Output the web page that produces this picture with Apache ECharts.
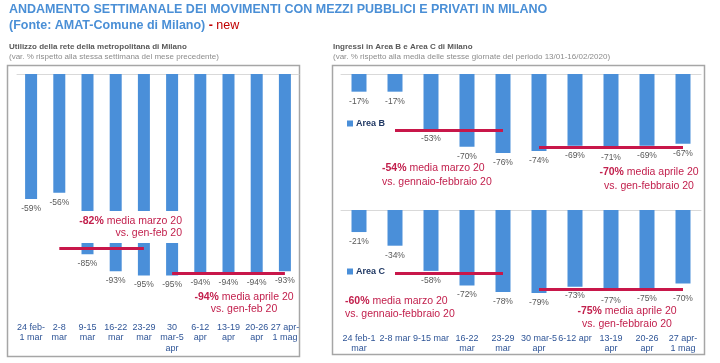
<!DOCTYPE html>
<html><head><meta charset="utf-8">
<script src="https://cdn.jsdelivr.net/npm/echarts@6/dist/echarts.min.js"></script>
<style>html,body{margin:0;padding:0;background:#fff}#c{width:720px;height:363px}</style>
</head><body><div id="c"></div>
<script>
// ---- data ----
const metroCategories = ['24 feb-\n1 mar','2-8\nmar','9-15\nmar','16-22\nmar','23-29\nmar','30\nmar-5\napr','6-12\napr','13-19\napr','20-26\napr','27 apr-\n1 mag'];
const areaCategories = ['24 feb-1\nmar','2-8 mar','9-15 mar','16-22\nmar','23-29\nmar','30 mar-5\napr','6-12 apr','13-19\napr','20-26\napr','27 apr-\n1 mag'];
const metroValues = [-59,-56,-85,-93,-95,-95,-94,-94,-94,-93];
const areaBValues = [-17,-17,-53,-70,-76,-74,-69,-71,-69,-67];
const areaCValues = [-21,-34,-58,-72,-78,-79,-73,-77,-75,-70];
const metroAverages = [-82,-94];   // [marzo, aprile]
const areaBAverages = [-54,-70];
const areaCAverages = [-60,-75];
const marchRange = [1,4];
const aprilRange = [5,9];

const BLUE = '#4a8fd9';
const RED = '#c8174a';
const TRED = '#c2204d';
const FONT = '"Liberation Sans", Arial, sans-serif';

const chart = echarts.init(document.getElementById('c'), null, {renderer:'canvas'});

function barSeries(name, data, xi, yi, avgs, barW, shiftLast) {
  const s = {
    type:'bar', name, data, xAxisIndex:xi, yAxisIndex:yi, barWidth:barW,
    itemStyle:{color:BLUE},
    label:{show:true, position:'bottom', distance:5, formatter:p=>p.value+'%', fontSize:8.5, color:'#595959', fontFamily:FONT},
    markLine:{silent:true, symbol:'none', animation:false,
      lineStyle:{color:RED, width:3, type:'solid'}, label:{show:false},
      emphasis:{disabled:true},
      data:[
        [{coord:[marchRange[0], avgs[0]]},{coord:[marchRange[1], avgs[0]]}],
        [{coord:[aprilRange[0], avgs[1]]},{coord:[aprilRange[1], avgs[1]]}]
      ]}
  };
  if (shiftLast) s.labelLayout = p => (p.dataIndex === data.length - 1 ? {dy: shiftLast} : {});
  return s;
}

function lineAxis(gi, cats) {
  return {type:'category', gridIndex:gi, data:cats, position:'top',
    axisLine:{show:true, lineStyle:{color:'#d9d9d9', width:1}}, axisTick:{show:false}, axisLabel:{show:false}};
}
function labelAxis(gi, cats, margin) {
  return {type:'category', gridIndex:gi, data:cats, position:'bottom',
    axisLine:{show:false, onZero:false}, axisTick:{show:false},
    axisLabel:{show:true, interval:0, margin, color:'#2f5597', fontSize:9, lineHeight:10.5, fontFamily:FONT}};
}
function valAxis(gi) {
  return {type:'value', gridIndex:gi, min:-100, max:0, show:false};
}

function annot(x, y, avg, rest, align, size, lh, bg) {
  const st = {text:'{b|'+avg+'%} '+rest, align, verticalAlign:'top', fill:TRED,
      font: size+'px '+FONT, lineHeight:lh,
      rich:{b:{fontWeight:'bold', fontSize:size, fill:TRED, lineHeight:lh, fontFamily:FONT}}};
  if (bg) { st.backgroundColor = '#ffffff'; st.padding = [4,3,4,3]; }
  return {type:'text', x, y, z:100, silent:true, style:st};
}

const option = {
  animation:false,
  textStyle:{fontFamily:FONT},
  grid:[
    {left:17, top:74, width:282, height:212},
    {left:341, top:74, width:360, height:104},
    {left:341, top:210, width:360, height:105}
  ],
  xAxis:[
    lineAxis(0, metroCategories), labelAxis(0, metroCategories, 36),
    lineAxis(1, areaCategories),
    lineAxis(2, areaCategories), labelAxis(2, areaCategories, 18)
  ],
  yAxis:[valAxis(0), valAxis(1), valAxis(2)],
  legend:[
    {data:['Area B'], left:342, top:114, icon:'rect', itemWidth:6, itemHeight:6, itemGap:3,
      textStyle:{fontWeight:'bold', fontSize:9, color:'#1f3864', padding:[0,0,0,-2]}},
    {data:['Area C'], left:342, top:262, icon:'rect', itemWidth:6, itemHeight:6, itemGap:3,
      textStyle:{fontWeight:'bold', fontSize:9, color:'#1f3864', padding:[0,0,0,-2]}}
  ],
  series:[
    barSeries('Metropolitana', metroValues, 0, 0, metroAverages, 12),
    barSeries('Area B', areaBValues, 2, 1, areaBAverages, 15),
    barSeries('Area C', areaCValues, 3, 2, areaCAverages, 15, 6)
  ],
  graphic:[
    {type:'text', x:9, y:3, silent:true, style:{text:'ANDAMENTO SETTIMANALE DEI MOVIMENTI CON MEZZI PUBBLICI E PRIVATI IN MILANO', font:'bold 12.5px '+FONT, fill:'#4a8fd6'}},
    {type:'text', x:9, y:19, silent:true, style:{text:'{a|(Fonte: AMAT-Comune di Milano)}{r| - }{n|new}', font:'bold 12.5px '+FONT, fill:'#4a8fd6',
      rich:{a:{fontWeight:'bold', fontSize:12.5, fill:'#4a8fd6', fontFamily:FONT}, r:{fontWeight:'bold', fontSize:12.5, fill:'#c00000', fontFamily:FONT}, n:{fontWeight:'normal', fontSize:12.5, fill:'#c00000', fontFamily:FONT}}}},
    {type:'text', x:9, y:43, silent:true, style:{text:'Utilizzo della rete della metropolitana di Milano', font:'bold 8px '+FONT, fill:'#595959'}},
    {type:'text', x:9, y:53, silent:true, style:{text:'(var. % rispetto alla stessa settimana del mese precedente)', font:'8px '+FONT, fill:'#8c8c8c'}},
    {type:'text', x:333, y:43, silent:true, style:{text:'Ingressi in Area B e Area C di Milano', font:'bold 8px '+FONT, fill:'#595959'}},
    {type:'text', x:333, y:53, silent:true, style:{text:'(var. % rispetto alla media delle stesse giornate del periodo 13/01-16/02/2020)', font:'8px '+FONT, fill:'#8c8c8c'}},
    {type:'rect', silent:true, shape:{x:7.5, y:65.5, width:292, height:291}, style:{fill:'none', stroke:'#a6a6a6', lineWidth:1.5}},
    {type:'rect', silent:true, shape:{x:332.5, y:65.5, width:372, height:289}, style:{fill:'none', stroke:'#a6a6a6', lineWidth:1.5}},
    annot(185, 211, metroAverages[0], 'media marzo 20\nvs. gen-feb 20', 'right', 10.5, 12, true),
    annot(244, 291, metroAverages[1], 'media aprile 20\nvs. gen-feb 20', 'center', 10.5, 12),
    annot(382, 161, areaBAverages[0], 'media marzo 20\nvs. gennaio-febbraio 20', 'left', 10.5, 14),
    annot(649, 165, areaBAverages[1], 'media aprile 20\nvs. gen-febbraio 20', 'center', 10.5, 14),
    annot(345, 295, areaCAverages[0], 'media marzo 20\nvs. gennaio-febbraio 20', 'left', 10.5, 13),
    annot(627, 305, areaCAverages[1], 'media aprile 20\nvs. gen-febbraio 20', 'center', 10.5, 13)
  ]
};
chart.setOption(option);
</script></body></html>
